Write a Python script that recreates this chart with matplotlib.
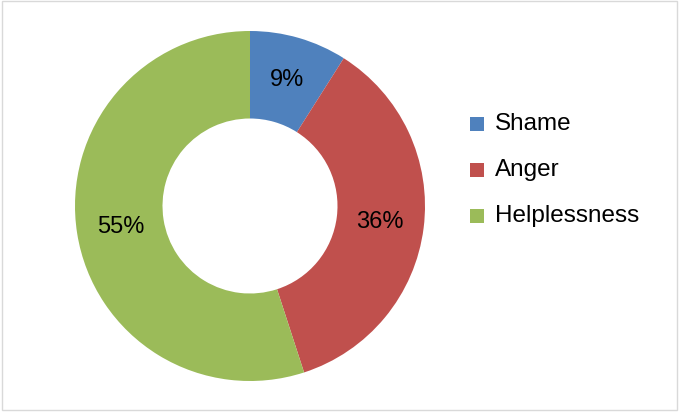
import matplotlib
matplotlib.use("Agg")
import matplotlib.pyplot as plt
from matplotlib.patches import Rectangle

labels = ["Shame", "Anger", "Helplessness"]
values = [9, 36, 55]
colors = ["#4F81BD", "#C0504D", "#9BBB59"]

plt.rcParams['font.family'] = ['Liberation Sans', 'DejaVu Sans']

fig = plt.figure(figsize=(6.8, 4.12), dpi=100)
W, H = 680, 412
cx, cy, r = 250, 206, 175
ax = fig.add_axes([(cx - r) / W, (H - cy - r) / H, 2 * r / W, 2 * r / H])

wedges, texts, autotexts = ax.pie(values, colors=colors, startangle=90, counterclock=False,
                                  radius=1, autopct='%d%%', pctdistance=0.75,
                                  wedgeprops=dict(width=0.5, linewidth=0),
                                  textprops=dict(fontsize=17, color='black'))
ax.set_xlim(-1, 1)
ax.set_ylim(-1, 1)
ax.set_aspect('auto')

# legend
for i, (lab, col) in enumerate(zip(labels, colors)):
    y = H - (124 + 46 * i)
    fig.patches.append(Rectangle(((470) / W, (y - 7) / H), 14 / W, 14 / H,
                                 transform=fig.transFigure, facecolor=col, edgecolor='none'))
    fig.text(495 / W, y / H, lab, fontsize=17.5, va='center', ha='left')

# outer frame
fig.patches.append(Rectangle((1.5 / W, 2 / H), 675 / W, 409 / H, transform=fig.transFigure,
                             facecolor='none', edgecolor='#d9d9d9', linewidth=1))

fig.savefig("out.png", dpi=100)
